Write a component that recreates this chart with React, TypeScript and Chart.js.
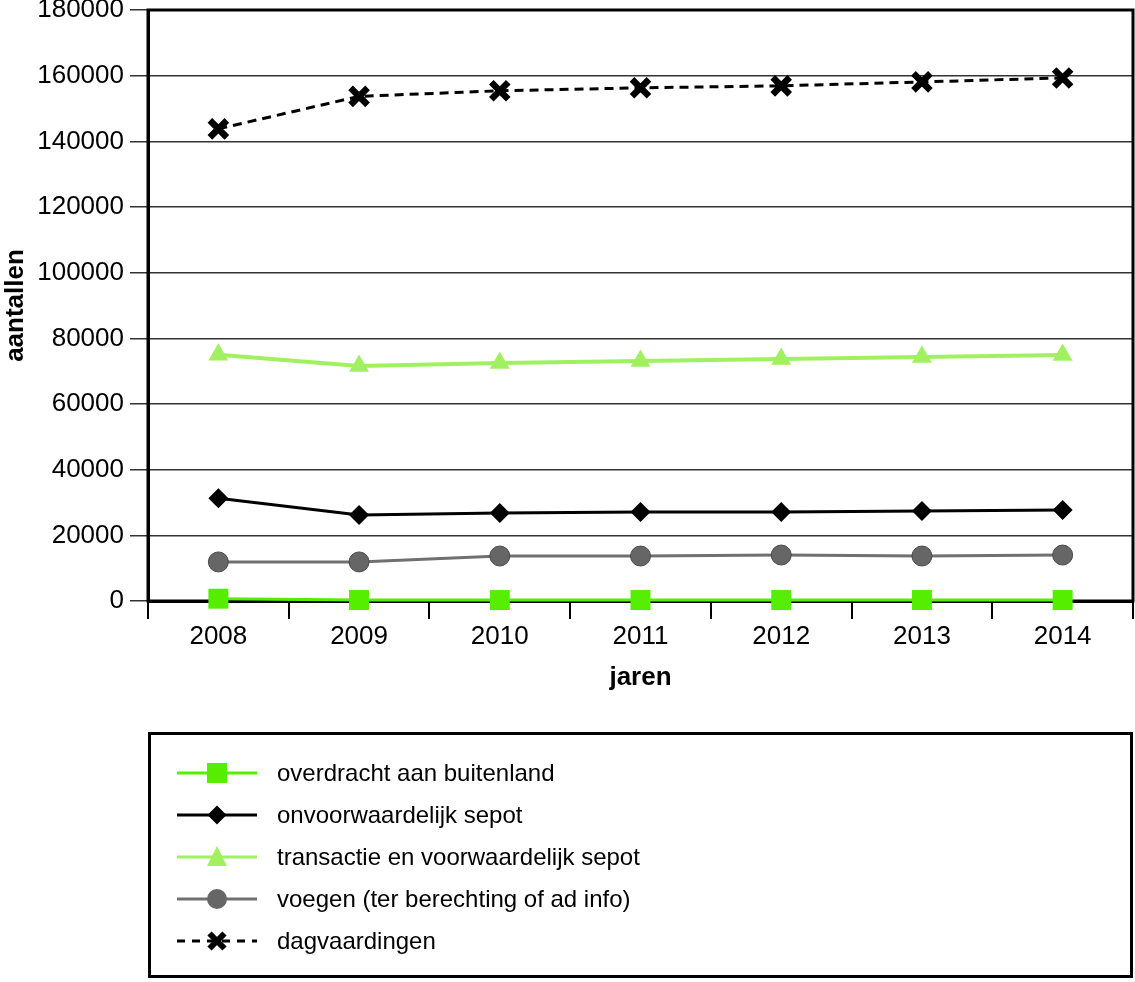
import React, { useEffect, useRef } from "react";
import { Chart, registerables } from "chart.js";

Chart.register(...registerables);

const years = ["2008", "2009", "2010", "2011", "2012", "2013", "2014"];
const overdracht = [700, 300, 300, 300, 300, 300, 300];
const onvoorwaardelijk = [31300, 26200, 26800, 27100, 27100, 27400, 27700];
const transactie = [75000, 71600, 72500, 73100, 73700, 74300, 74900];
const voegen = [11900, 11900, 13700, 13700, 14000, 13700, 14000];
const dagvaardingen = [143800, 153700, 155400, 156300, 156900, 158100, 159300];

const seriesNames = [
  "overdracht aan buitenland",
  "onvoorwaardelijk sepot",
  "transactie en voorwaardelijk sepot",
  "voegen (ter berechting of ad info)",
  "dagvaardingen",
];

const FONT = "'Liberation Sans', Arial, sans-serif";

const legendSpec = [
  { color: "#55ee00", marker: "square", fill: "#55ee00", dash: [] as number[] },
  { color: "#000000", marker: "diamond", fill: "#000000", dash: [] as number[] },
  { color: "#a0f060", marker: "triangle", fill: "#a0f060", dash: [] as number[] },
  { color: "#707070", marker: "circle", fill: "#666666", dash: [] as number[] },
  { color: "#000000", marker: "cross", fill: "#000000", dash: [8, 7] },
];

const framePlugin = {
  id: "frame",
  beforeDatasetsDraw(chart: any) {
    const { ctx, chartArea } = chart;
    ctx.save();
    ctx.strokeStyle = "#000";
    ctx.lineWidth = 3;
    ctx.strokeRect(chartArea.left, chartArea.top, chartArea.right - chartArea.left, chartArea.bottom - chartArea.top);
    ctx.restore();
  },
};

const legendPlugin = {
  id: "customLegend",
  afterDraw(chart: any) {
    const { ctx } = chart;
    ctx.save();
    ctx.strokeStyle = "#000";
    ctx.lineWidth = 3;
    ctx.strokeRect(149.5, 733.5, 982, 243);
    const rowY0 = 773;
    const rowStep = 42;
    seriesNames.forEach((name, i) => {
      const s = legendSpec[i];
      const y = rowY0 + i * rowStep;
      const cx = 217;
      ctx.beginPath();
      ctx.setLineDash(s.dash);
      ctx.strokeStyle = s.color;
      ctx.lineWidth = 3;
      ctx.moveTo(177, y);
      ctx.lineTo(257, y);
      ctx.stroke();
      ctx.setLineDash([]);
      ctx.fillStyle = s.fill;
      ctx.beginPath();
      if (s.marker === "square") {
        ctx.rect(cx - 10, y - 10, 20, 20);
        ctx.fill();
      } else if (s.marker === "diamond") {
        ctx.moveTo(cx, y - 9.5);
        ctx.lineTo(cx + 9.5, y);
        ctx.lineTo(cx, y + 9.5);
        ctx.lineTo(cx - 9.5, y);
        ctx.closePath();
        ctx.fill();
      } else if (s.marker === "triangle") {
        ctx.moveTo(cx, y - 11);
        ctx.lineTo(cx + 10, y + 9);
        ctx.lineTo(cx - 10, y + 9);
        ctx.closePath();
        ctx.fill();
      } else if (s.marker === "circle") {
        ctx.arc(cx, y, 10, 0, Math.PI * 2);
        ctx.fill();
      } else if (s.marker === "cross") {
        ctx.strokeStyle = "#000";
        ctx.lineWidth = 6;
        ctx.moveTo(cx - 7.5, y - 7.5);
        ctx.lineTo(cx + 7.5, y + 7.5);
        ctx.moveTo(cx + 7.5, y - 7.5);
        ctx.lineTo(cx - 7.5, y + 7.5);
        ctx.stroke();
      }
      ctx.fillStyle = "#000";
      ctx.font = `24px ${FONT}`;
      ctx.textBaseline = "middle";
      ctx.textAlign = "left";
      ctx.fillText(name, 277, y + 1);
    });
    ctx.restore();
  },
};

export default function App() {
  const ref = useRef<HTMLCanvasElement | null>(null);
  useEffect(() => {
    if (!ref.current) return;
    const chart = new Chart(ref.current, {
      type: "line",
      data: {
        labels: years,
        datasets: [
          {
            label: seriesNames[0],
            data: overdracht,
            borderColor: "#55ee00",
            backgroundColor: "#55ee00",
            borderWidth: 3,
            pointStyle: "rect",
            pointRadius: 14.1,
            pointBorderWidth: 0,
            pointBackgroundColor: "#55ee00",
            clip: false,
          } as any,
          {
            label: seriesNames[1],
            data: onvoorwaardelijk,
            borderColor: "#000000",
            backgroundColor: "#000000",
            borderWidth: 3,
            pointStyle: "rectRot",
            pointRadius: 10,
            pointBorderWidth: 0,
          },
          {
            label: seriesNames[2],
            data: transactie,
            borderColor: "#a0f060",
            backgroundColor: "#a0f060",
            borderWidth: 4,
            pointStyle: "triangle",
            pointRadius: 11.5,
            pointBorderWidth: 0,
          },
          {
            label: seriesNames[3],
            data: voegen,
            borderColor: "#707070",
            backgroundColor: "#666666",
            borderWidth: 3,
            pointStyle: "circle",
            pointRadius: 10,
            pointBorderColor: "#4a4a4a",
            pointBorderWidth: 1,
          },
          {
            label: seriesNames[4],
            data: dagvaardingen,
            borderColor: "#000000",
            backgroundColor: "#000000",
            borderWidth: 3,
            borderDash: [9, 6],
            pointStyle: "crossRot",
            pointRadius: 12,
            pointBorderWidth: 6.5,
            pointBorderColor: "#000000",
          },
        ],
      },
      options: {
        animation: false,
        responsive: false,
        maintainAspectRatio: false,
        layout: { padding: { top: 10, right: 2, bottom: 281, left: 0 }, autoPadding: false } as any,
        plugins: {
          legend: { display: false },
          tooltip: { enabled: false },
        },
        elements: { line: { tension: 0 } },
        scales: {
          x: {
            offset: true,
            afterFit: (scale: any) => {
              scale.height = 100;
              scale.paddingLeft = 0;
              scale.paddingRight = 0;
            },
            grid: {
              display: true,
              drawOnChartArea: false,
              drawTicks: true,
              tickLength: 18,
              offset: true,
              color: "#000",
              lineWidth: 2,
            },
            border: { display: true, color: "#000", width: 3 },
            ticks: {
              color: "#000",
              font: { family: FONT, size: 26 },
              padding: 2,
              maxRotation: 0,
            },
            title: {
              display: true,
              text: "jaren",
              color: "#000",
              font: { family: FONT, size: 26, weight: "bold" },
              padding: { top: 0, bottom: 8 },
            },
          },
          y: {
            min: 0,
            max: 180000,
            afterFit: (scale: any) => {
              scale.width = 148;
              scale.paddingTop = 0;
              scale.paddingBottom = 0;
            },
            grid: {
              color: "#333",
              lineWidth: 1.5,
              tickLength: 18,
            },
            border: { display: true, color: "#000", width: 3 },
            ticks: {
              stepSize: 20000,
              color: "#000",
              font: { family: FONT, size: 26 },
              padding: 6,
              callback: (v: any) => String(v),
            },
            title: {
              display: true,
              text: "aantallen",
              color: "#000",
              font: { family: FONT, size: 26, weight: "bold" },
              padding: { top: 0, bottom: 0 },
            },
          },
        },
      },
      plugins: [framePlugin, legendPlugin],
    });
    return () => chart.destroy();
  }, []);
  return (
    <div style={{ position: "fixed", left: 0, top: 0, width: 1135, height: 982, background: "#fff" }}>
      <canvas ref={ref} width={1135} height={982} style={{ width: 1135, height: 982 }} />
    </div>
  );
}
